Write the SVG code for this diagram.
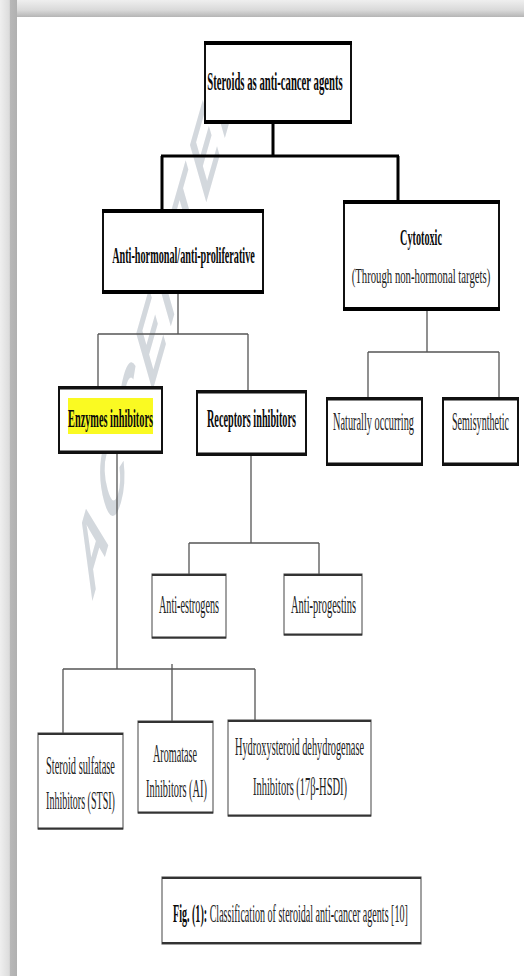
<svg xmlns="http://www.w3.org/2000/svg" width="524" height="976" viewBox="0 0 524 976">
<defs>
<linearGradient id="topg" x1="0" y1="0" x2="0" y2="1">
<stop offset="0" stop-color="#efefef"/><stop offset="0.6" stop-color="#d9d9d9"/><stop offset="1" stop-color="#b5b5b5"/>
</linearGradient>
<linearGradient id="leftg" x1="0" y1="0" x2="1" y2="0">
<stop offset="0" stop-color="#efefef"/><stop offset="0.55" stop-color="#dcdcdc"/><stop offset="0.6" stop-color="#b8b8b8"/><stop offset="1" stop-color="#b0b0b0"/>
</linearGradient>
</defs>
<style>
.bx{fill:#fff;stroke:#111;stroke-width:2}
.bx3{fill:#fff;stroke:#555;stroke-width:1.1}
.ek{stroke:#000;stroke-width:4;fill:none}
.em{stroke:#111;stroke-width:3;fill:none}
.es{stroke:#333;stroke-width:2;fill:none}
.c1{stroke:#000;stroke-width:3;fill:none}
.c2{stroke:#555;stroke-width:1.3;fill:none}
text{font-family:"Liberation Serif","Times New Roman",serif;text-anchor:middle;font-size:25px}
.bd{font-weight:bold;fill:#0a0a0a}
.rg{fill:#222}
.wm{font-family:"Liberation Sans",Arial,sans-serif;font-weight:bold;fill:#c5cbd2;opacity:0.75;text-anchor:middle;font-size:56px}
</style>
<rect x="0" y="0" width="524" height="976" fill="#ececec"/>
<rect x="0" y="0" width="524" height="17" fill="url(#topg)"/>
<rect x="0" y="0" width="17" height="976" fill="url(#leftg)"/>
<rect x="17" y="17" width="507" height="959" fill="#fff"/>
<text class="wm" transform="translate(158,315) scale(0.6,2.1) rotate(-45)" y="19" textLength="350" lengthAdjust="spacing">ACCEPTED</text>
<g id="connectors">
<path class="c1" d="M273 123V156M161 156H399M162 156V210M398 156V201"/>
<path class="c2" d="M178 293V334M98 334H248M98 334V387M248 334V391"/>
<path class="c2" d="M427 310V352M368 352H499M368 352V398M499 352V398"/>
<path class="c2" d="M251 455V543M189 543H319M189 543V574M319 543V574"/>
<path class="c2" d="M117 453V669M63 669H255M63 669V733M172 664V721M255 669V720"/>
</g>
<g id="n-root">
<rect class="bx" x="205" y="42" width="146" height="81"/>
<path class="ek" d="M204 43H352M204 122H352"/>
<text class="bd" transform="translate(275,90) scale(0.412,1)" style="font-size:26px">Steroids as anti-cancer agents</text>
</g>
<g id="n-antihormonal">
<rect class="bx" x="103" y="210" width="160" height="83"/>
<path class="ek" d="M102 211H264M102 292H264"/>
<text class="bd" transform="translate(183.5,263) scale(0.444,1)" style="font-size:23px">Anti-hormonal/anti-proliferative</text>
</g>
<g id="n-cytotoxic">
<rect class="bx" x="344" y="201" width="155" height="109"/>
<path class="ek" d="M343 202H500M343 309H500"/>
<text class="bd" transform="translate(421,245) scale(0.444,1)" style="font-size:23px">Cytotoxic</text>
<text class="rg" transform="translate(421,283) scale(0.488,1)" style="font-size:22px">(Through non-hormonal targets)</text>
</g>
<g id="n-enzymes">
<rect class="bx" x="59" y="387" width="103" height="66"/>
<path class="em" d="M58 388H163M58 452H163"/>
<rect x="68" y="398" width="85" height="36" fill="#fafa22"/>
<text class="bd" transform="translate(110.5,427) scale(0.412,1)">Enzymes inhibitors</text>
</g>
<g id="n-receptors">
<rect class="bx" x="197" y="391" width="109" height="64"/>
<path class="em" d="M196 392H307M196 454H307"/>
<text class="bd" transform="translate(251.5,427) scale(0.41,1)">Receptors inhibitors</text>
</g>
<g id="n-natural">
<rect class="bx" x="327" y="398" width="95" height="67"/>
<path class="em" d="M326 399H423M326 464H423"/>
<text class="rg" transform="translate(373.5,430) scale(0.412,1)">Naturally occurring</text>
</g>
<g id="n-semi">
<rect class="bx" x="443" y="398" width="75" height="67"/>
<path class="em" d="M442 399H519M442 464H519"/>
<text class="rg" transform="translate(480.5,430) scale(0.404,1)">Semisynthetic</text>
</g>
<g id="n-antiestrogens">
<rect class="bx3" x="152" y="574" width="74" height="64"/>
<path class="es" d="M152 575H226M152 637.5H226"/>
<text class="rg" transform="translate(189,613) scale(0.408,1)">Anti-estrogens</text>
</g>
<g id="n-antiprogestins">
<rect class="bx3" x="284" y="574" width="78" height="61"/>
<path class="es" d="M284 575H362M284 634.5H362"/>
<text class="rg" transform="translate(323.5,613) scale(0.418,1)">Anti-progestins</text>
</g>
<g id="n-stsi">
<rect class="bx3" x="38" y="733" width="85" height="96"/>
<path class="es" d="M38 734H123M38 828.5H123"/>
<text class="rg" transform="translate(80.5,774) scale(0.416,1)">Steroid sulfatase</text>
<text class="rg" transform="translate(80.5,809) scale(0.402,1)">Inhibitors (STSI)</text>
</g>
<g id="n-ai">
<rect class="bx3" x="138" y="721" width="75" height="92"/>
<path class="es" d="M138 722H213M138 812.5H213"/>
<text class="rg" transform="translate(175,762) scale(0.407,1)">Aromatase</text>
<text class="rg" transform="translate(176.5,797) scale(0.416,1)">Inhibitors (AI)</text>
</g>
<g id="n-hsdi">
<rect class="bx3" x="228" y="720" width="143" height="96"/>
<path class="es" d="M228 721H371M228 815.5H371"/>
<text class="rg" transform="translate(299.5,755) scale(0.412,1)">Hydroxysteroid dehydrogenase</text>
<text class="rg" transform="translate(300,795) scale(0.419,1)">Inhibitors (17β-HSDI)</text>
</g>
<g id="caption">
<rect class="bx3" x="162" y="877" width="259" height="67"/>
<path class="es" d="M162 878H421M162 943H421"/>
<text transform="translate(173,922) scale(0.403,1)" style="text-anchor:start"><tspan class="bd">Fig. (1):</tspan><tspan class="rg"> Classification of steroidal anti-cancer agents [10]</tspan></text>
</g>
</svg>
